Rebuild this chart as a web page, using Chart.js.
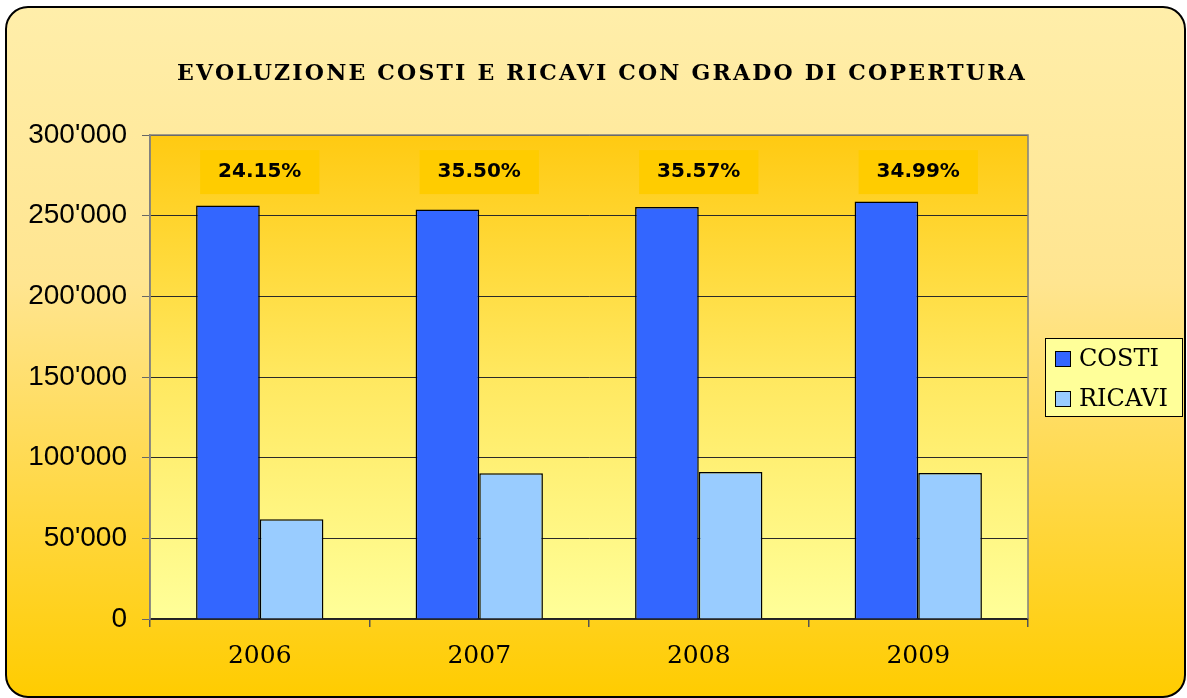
<!DOCTYPE html>
<html>
<head>
<meta charset="utf-8">
<script src="https://cdn.jsdelivr.net/npm/chart.js@4.4.0/dist/chart.umd.min.js"></script>
<style>
  html, body { margin: 0; padding: 0; background: #fff; }
  #wrap { width: 1187px; height: 698px; }
</style>
</head>
<body>
<div id="wrap"><canvas id="chart" width="1187" height="698"></canvas></div>
<script>
// chart data
var years = ['2006', '2007', '2008', '2009'];
var costi = [256300, 253800, 255400, 258800];
var ricavi = [61900, 90300, 91100, 90500];
var copertura = ['24.15%', '35.50%', '35.57%', '34.99%'];
var yTicks = [0, 50000, 100000, 150000, 200000, 250000, 300000];
var title = 'EVOLUZIONE COSTI E RICAVI CON GRADO DI COPERTURA';

// formats 250000 -> 250'000
function fmt(v) {
    return String(v).replace(/\B(?=(\d{3})+(?!\d))/g, "'");
}

function roundRect(ctx, x, y, w, h, r) {
    ctx.beginPath();
    ctx.moveTo(x + r, y);
    ctx.lineTo(x + w - r, y);
    ctx.arcTo(x + w, y, x + w, y + r, r);
    ctx.lineTo(x + w, y + h - r);
    ctx.arcTo(x + w, y + h, x + w - r, y + h, r);
    ctx.lineTo(x + r, y + h);
    ctx.arcTo(x, y + h, x, y + h - r, r);
    ctx.lineTo(x, y + r);
    ctx.arcTo(x, y, x + r, y, r);
    ctx.closePath();
}

// background frame + plot area fill
var backgroundPlugin = {
    id: 'backgrounds',
    beforeDraw: function(chart) {
        var ctx = chart.ctx, a = chart.chartArea;
        ctx.save();
        ctx.fillStyle = '#fff';
        ctx.fillRect(0, 0, chart.width, chart.height);

        var g = ctx.createLinearGradient(0, 7, 0, 697);
        g.addColorStop(0, '#FFEEAA');
        g.addColorStop(0.4, '#FFE590');
        g.addColorStop(1, '#FFCC00');
        roundRect(ctx, 6, 7, 1179, 690, 22);
        ctx.fillStyle = g;
        ctx.fill();
        ctx.lineWidth = 2;
        ctx.strokeStyle = '#000';
        ctx.stroke();

        var pg = ctx.createLinearGradient(0, a.top, 0, a.bottom);
        pg.addColorStop(0, '#FFCA12');
        pg.addColorStop(0.5, '#FFE860');
        pg.addColorStop(1, '#FFFF99');
        ctx.fillStyle = pg;
        ctx.fillRect(a.left, a.top, a.right - a.left, a.bottom - a.top);

        // title, stretched to the width it has in the original
        ctx.font = 'bold 22px "DejaVu Serif"';
        ctx.fillStyle = '#000';
        ctx.textAlign = 'center';
        ctx.textBaseline = 'middle';
        ctx.letterSpacing = '0px';
        var w = ctx.measureText(title).width;
        ctx.letterSpacing = Math.max(0, (850 - w) / title.length).toFixed(2) + 'px';
        ctx.fillText(title, 602, 74);
        ctx.restore();
    },
    beforeDatasetsDraw: function(chart) {
        // gray frame of the plot area (top, left, right)
        var ctx = chart.ctx, a = chart.chartArea;
        ctx.save();
        ctx.strokeStyle = '#808080';
        ctx.lineWidth = 1.5;
        ctx.beginPath();
        ctx.moveTo(a.left, a.bottom);
        ctx.lineTo(a.left, a.top);
        ctx.lineTo(a.right, a.top);
        ctx.lineTo(a.right, a.bottom);
        ctx.stroke();
        ctx.restore();
    },
    afterDraw: function(chart) {
        var ctx = chart.ctx, a = chart.chartArea;
        var xs = chart.scales.x, ys = chart.scales.y;
        ctx.save();
        // coverage labels
        ctx.font = 'bold 20px "DejaVu Sans"';
        ctx.textAlign = 'center';
        ctx.textBaseline = 'middle';
        var ly = ys.getPixelForValue(277000);
        copertura.forEach(function(txt, i) {
            var x = xs.getPixelForValue(i);
            var tw = ctx.measureText(txt).width;
            ctx.fillStyle = '#FFCC00';
            ctx.fillRect(x - tw / 2 - 18, ly - 22, tw + 36, 44);
            ctx.fillStyle = '#000';
            ctx.fillText(txt, x, ly);
        });

        // legend box
        var lx = a.right + 17, lh = 78, lw = 137;
        var lt = (a.top + a.bottom) / 2 - lh / 2;
        ctx.fillStyle = '#FFFF99';
        ctx.fillRect(lx, lt, lw, lh);
        ctx.strokeStyle = '#000';
        ctx.lineWidth = 1;
        ctx.strokeRect(lx + 0.5, lt + 0.5, lw, lh);
        ctx.font = '24px "DejaVu Serif"';
        ctx.textAlign = 'left';
        chart.data.datasets.forEach(function(ds, i) {
            var cy = lt + 21 + i * 40;
            ctx.fillStyle = ds.backgroundColor;
            ctx.fillRect(lx + 10, cy - 8, 16, 16);
            ctx.strokeRect(lx + 10.5, cy - 7.5, 15, 15);
            ctx.fillStyle = '#000';
            ctx.fillText(ds.label, lx + 34, cy + 1);
        });
        ctx.restore();
    }
};

var ctx = document.getElementById('chart').getContext('2d');
new Chart(ctx, {
    type: 'bar',
    data: {
        labels: years,
        datasets: [
            { label: 'COSTI', data: costi, backgroundColor: '#3366FF', borderColor: '#000', borderWidth: 1.5 },
            { label: 'RICAVI', data: ricavi, backgroundColor: '#99CCFF', borderColor: '#000', borderWidth: 1.5 }
        ]
    },
    options: {
        responsive: false,
        animation: false,
        layout: { padding: { left: 0, top: 135, right: 159, bottom: 0 } },
        plugins: {
            legend: { display: false },
            title: { display: false },
            tooltip: { enabled: false }
        },
        datasets: { bar: { categoryPercentage: 0.58, barPercentage: 1 } },
        scales: {
            x: {
                afterFit: function(s) { s.height = 79; },
                grid: { drawOnChartArea: false, offset: true, tickLength: 8, color: '#555', lineWidth: 1.5 },
                border: { color: '#222', width: 1.5 },
                ticks: { color: '#000', padding: 14, font: { family: 'DejaVu Serif', size: 25 } }
            },
            y: {
                min: 0,
                max: 300000,
                afterFit: function(s) { s.width = 150; },
                afterBuildTicks: function(s) { s.ticks = yTicks.map(function(v) { return { value: v }; }); },
                grid: { color: '#2a2a2a', lineWidth: 1, tickLength: 8, tickColor: '#666' },
                border: { color: '#808080', width: 1.5 },
                ticks: {
                    color: '#000',
                    padding: 15,
                    font: { family: 'Liberation Sans', size: 28 },
                    callback: function(v) { return fmt(v); }
                }
            }
        }
    },
    plugins: [backgroundPlugin]
});
</script>
</body>
</html>
